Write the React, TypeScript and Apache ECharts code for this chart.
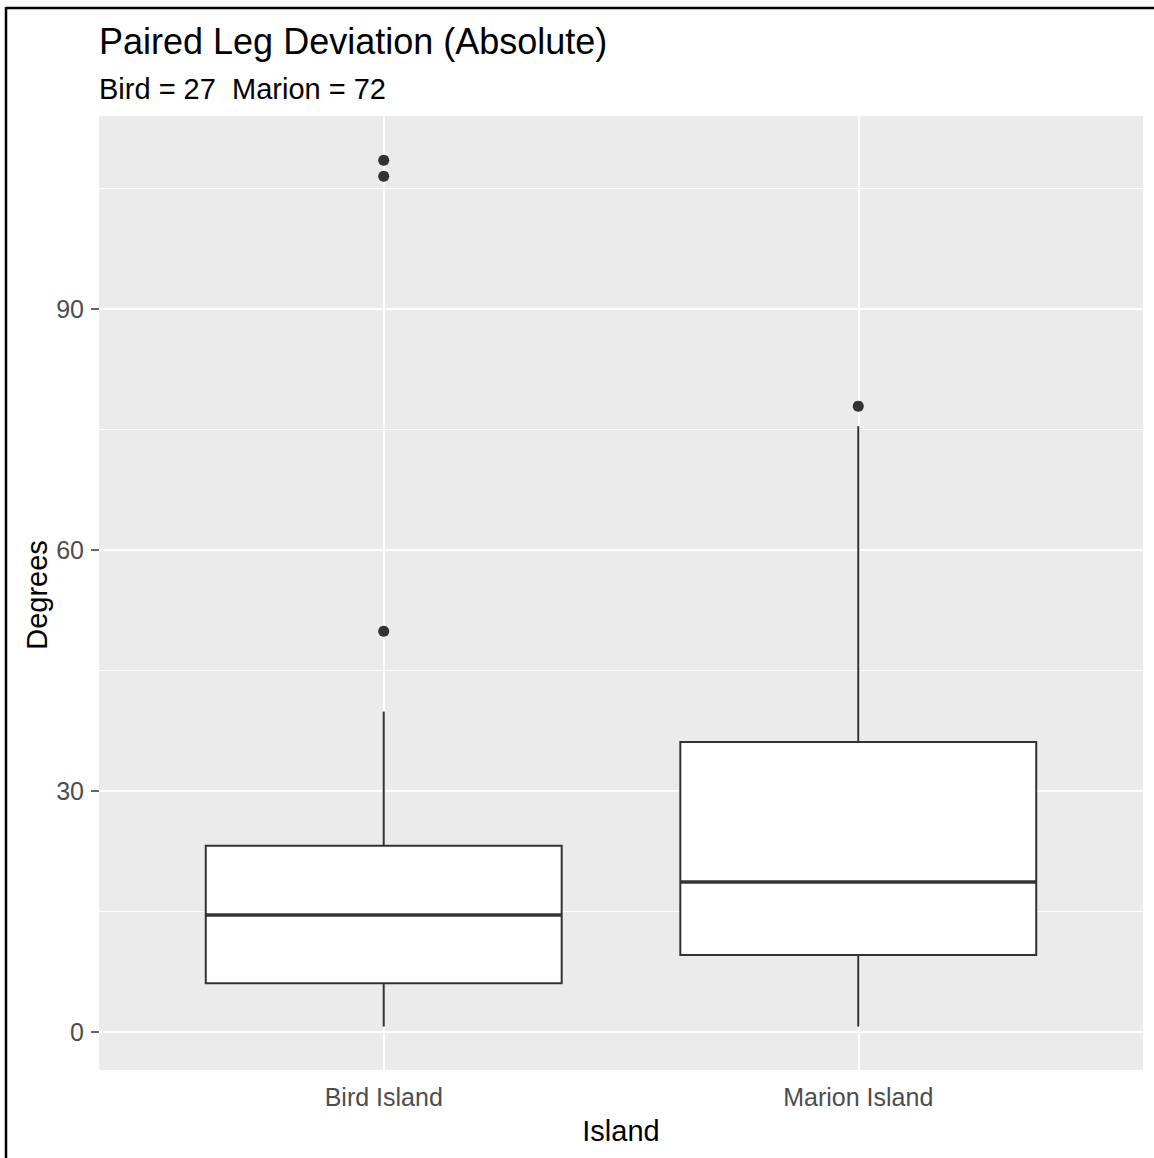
import React, { useEffect, useRef } from "react";
import * as echarts from "echarts";

const categories = ["Bird Island", "Marion Island"];
const whiskerLow = [0.7, 0.7];
const q1 = [6.1, 9.6];
const median = [14.6, 18.7];
const q3 = [23.2, 36.1];
const whiskerHigh = [39.9, 75.4];
const outlierCategory = [1, 1, 1, 2];
const outlierValue = [49.9, 106.5, 108.5, 77.9];
const yMajor = [0, 30, 60, 90];
const yMinor = [15, 45, 75, 105];

const FONT = "'Liberation Sans', Arial, sans-serif";

export default function App() {
  const ref = useRef<HTMLDivElement>(null);
  useEffect(() => {
    document.body.style.margin = "0";
    if (!ref.current) return;
    const chart = echarts.init(ref.current, undefined, { renderer: "svg" });
    const boxData = categories.map((_, i) => [i + 1, whiskerLow[i], q1[i], median[i], q3[i], whiskerHigh[i]]);
    const outData = outlierCategory.map((c, i) => [c, outlierValue[i]]);
    const gridLines: any[] = [
      ...yMinor.map((v) => ({ yAxis: v, lineStyle: { color: "#ffffff", width: 1, type: "solid" } })),
      ...yMajor.map((v) => ({ yAxis: v, lineStyle: { color: "#ffffff", width: 2, type: "solid" } })),
      ...categories.map((_, i) => ({ xAxis: i + 1, lineStyle: { color: "#ffffff", width: 2, type: "solid" } })),
    ];
    chart.setOption({
      animation: false,
      backgroundColor: "#ffffff",
      grid: {
        left: 99,
        right: 11,
        top: 116,
        bottom: 88,
        show: true,
        backgroundColor: "#EBEBEB",
        borderWidth: 0,
      },
      xAxis: {
        type: "value",
        min: 0.4,
        max: 2.6,
        splitLine: { show: false },
        axisLine: { show: false },
        axisTick: { show: true, length: 8, lineStyle: { color: "#333333", width: 1.5 }, customValues: [1, 2] },
        axisLabel: {
          customValues: [1, 2],
          formatter: (v: number) => categories[Math.round(v) - 1] ?? "",
          color: "#4D4D4D",
          fontSize: 25,
          fontFamily: FONT,
          margin: 14,
        },
      },
      yAxis: {
        type: "value",
        min: -4.7,
        max: 114,
        splitLine: { show: false },
        axisLine: { show: false },
        axisTick: { show: true, length: 8, lineStyle: { color: "#333333", width: 1.5 }, customValues: yMajor },
        axisLabel: {
          customValues: yMajor,
          color: "#4D4D4D",
          fontSize: 25,
          fontFamily: FONT,
          margin: 15,
        },
      },
      graphic: [
        { type: "line", shape: { x1: 6, y1: 8, x2: 1154, y2: 8 }, style: { stroke: "#000", lineWidth: 2.5 } },
        { type: "line", shape: { x1: 6, y1: 7, x2: 6, y2: 1158 }, style: { stroke: "#000", lineWidth: 2.5 } },
        {
          type: "text",
          x: 99,
          y: 41,
          style: { text: "Paired Leg Deviation (Absolute)", fontSize: 36, fontFamily: FONT, fill: "#000", align: "left", verticalAlign: "middle" },
        },
        {
          type: "text",
          x: 99,
          y: 89,
          style: { text: "Bird = 27  Marion = 72", fontSize: 29, fontFamily: FONT, fill: "#000", align: "left", verticalAlign: "middle" },
        },
        {
          type: "text",
          x: 621,
          y: 1131,
          style: { text: "Island", fontSize: 29, fontFamily: FONT, fill: "#000", align: "center", verticalAlign: "middle" },
        },
        {
          type: "text",
          x: 37,
          y: 595,
          rotation: Math.PI / 2,
          style: { text: "Degrees", fontSize: 29, fontFamily: FONT, fill: "#000", align: "center", verticalAlign: "middle" },
        },
      ],
      series: [
        {
          type: "line",
          data: [],
          z: 1,
          silent: true,
          markLine: {
            silent: true,
            z: 1,
            symbol: "none",
            label: { show: false },
            animation: false,
            data: gridLines,
          },
        },
        {
          type: "custom",
          z: 6,
          data: boxData,
          renderItem: (params: any, api: any) => {
            const x = api.value(0);
            const lo = api.value(1);
            const a = api.value(2);
            const m = api.value(3);
            const b = api.value(4);
            const hi = api.value(5);
            const pLeftTop = api.coord([x - 0.375, b]);
            const pRightBot = api.coord([x + 0.375, a]);
            const pc = api.coord([x, m]);
            const pLo = api.coord([x, lo]);
            const pHi = api.coord([x, hi]);
            const stroke = "#333333";
            return {
              type: "group",
              children: [
                { type: "line", shape: { x1: pc[0], y1: pHi[1], x2: pc[0], y2: pLeftTop[1] }, style: { stroke, lineWidth: 2 } },
                { type: "line", shape: { x1: pc[0], y1: pRightBot[1], x2: pc[0], y2: pLo[1] }, style: { stroke, lineWidth: 2 } },
                {
                  type: "rect",
                  shape: { x: pLeftTop[0], y: pLeftTop[1], width: pRightBot[0] - pLeftTop[0], height: pRightBot[1] - pLeftTop[1] },
                  style: { fill: "#ffffff", stroke, lineWidth: 2 },
                },
                { type: "line", shape: { x1: pLeftTop[0], y1: pc[1], x2: pRightBot[0], y2: pc[1] }, style: { stroke, lineWidth: 3.5 } },
              ],
            };
          },
        },
        {
          type: "scatter",
          z: 7,
          data: outData,
          symbol: "circle",
          symbolSize: 11,
          itemStyle: { color: "#333333", opacity: 1 },
        },
      ],
    });
    return () => chart.dispose();
  }, []);
  return <div ref={ref} style={{ width: 1154, height: 1158 }} />;
}
